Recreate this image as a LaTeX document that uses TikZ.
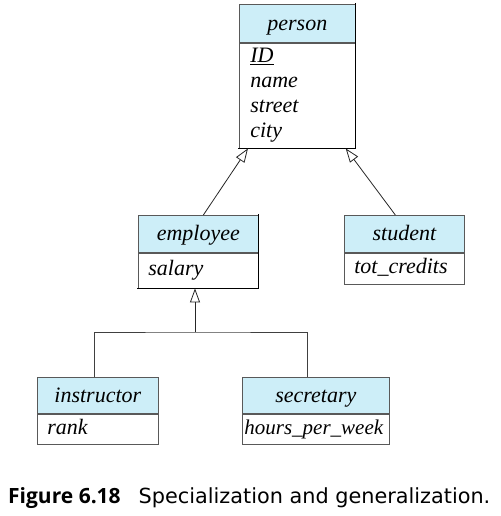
\documentclass[tikz,border=0pt]{standalone}
\usepackage{fontspec}
\setmainfont{Liberation Serif}
\newfontfamily\capfont{DejaVu Sans}
\newfontfamily\capbold{Open Sans}
\usetikzlibrary{arrows.meta}
\definecolor{hdrfill}{HTML}{CDEEF8}
\begin{document}
\begin{tikzpicture}[x=1pt,y=-1pt,
  every node/.style={font=\fontsize{22}{25}\selectfont\itshape},
  hdr/.style={draw=black!65, line width=0.7pt, fill=hdrfill, anchor=north west, inner sep=0pt, text height=17pt, text depth=3pt},
  attrs/.style={draw=black!65, line width=0.7pt, anchor=north west, inner xsep=10pt, inner ysep=0pt, align=left},
  oneline/.style={text height=15pt, text depth=5pt},
  shadowline/.style={line width=1.4pt, draw=black, line cap=rect},
  gen/.style={-{Triangle[open,length=14pt,width=10pt]}, line width=0.8pt, draw=black!85},
  tree/.style={line width=0.8pt, draw=black!75}
]
\useasboundingbox (0,0) rectangle (500,516);
% person
\node[hdr,minimum width=116pt,minimum height=38pt] (person) at (239,4) {person};
\node[attrs,minimum width=116pt,minimum height=105pt,text width=94pt,inner xsep=11pt] (personattr) at (person.south west) {\underline{ID}\\name\\street\\city};
\draw[shadowline] (person.north east) -- (personattr.south east) -- (personattr.south west);
% employee
\node[hdr,minimum width=120pt,minimum height=37pt] (employee) at (138,215) {employee};
\node[attrs,oneline,minimum width=120pt,minimum height=35pt,text width=100pt] (employeeattr) at (employee.south west) {salary};
\draw[shadowline] (employee.north east) -- (employeeattr.south east) -- (employeeattr.south west);
% student
\node[hdr,minimum width=120pt,minimum height=37pt] (student) at (344,215) {student};
\node[attrs,oneline,minimum width=120pt,minimum height=31pt,text width=100pt] (studentattr) at (student.south west) {tot\_credits};
% instructor
\node[hdr,minimum width=121pt,minimum height=36pt] (instructor) at (37,377) {instructor};
\node[attrs,oneline,minimum width=121pt,minimum height=30pt,text width=101pt] (instructorattr) at (instructor.south west) {rank};
% secretary
\node[hdr,minimum width=147pt,minimum height=36pt] (secretary) at (242,377) {secretary};
\node[attrs,oneline,minimum width=147pt,minimum height=30pt,text width=143pt,inner xsep=2pt,font=\fontsize{21}{25}\selectfont\itshape] (secretaryattr) at (secretary.south west) {hours\_per\_week};
% generalization arrows
\draw[gen] ([xshift=5pt]employee.north) -- ([xshift=9pt]personattr.south west);
\draw[gen] ([xshift=-9pt]student.north) -- ([xshift=-10pt]personattr.south east);
\coordinate (junction) at (195,332);
\draw[gen] (junction) -- (employeeattr.south -| junction);
\draw[tree] ([xshift=-3.5pt]instructor.north) |- (junction) -| ([xshift=-8.5pt]secretary.north);
% caption
\node[font=\capfont\fontsize{20.8}{24}\selectfont, anchor=base west, inner sep=0pt] (caption) at (8,503) {{\capbold\bfseries\fontsize{21}{24}\selectfont Figure 6.18}\hspace{18pt}Specialization and generalization.};
\end{tikzpicture}
\end{document}
